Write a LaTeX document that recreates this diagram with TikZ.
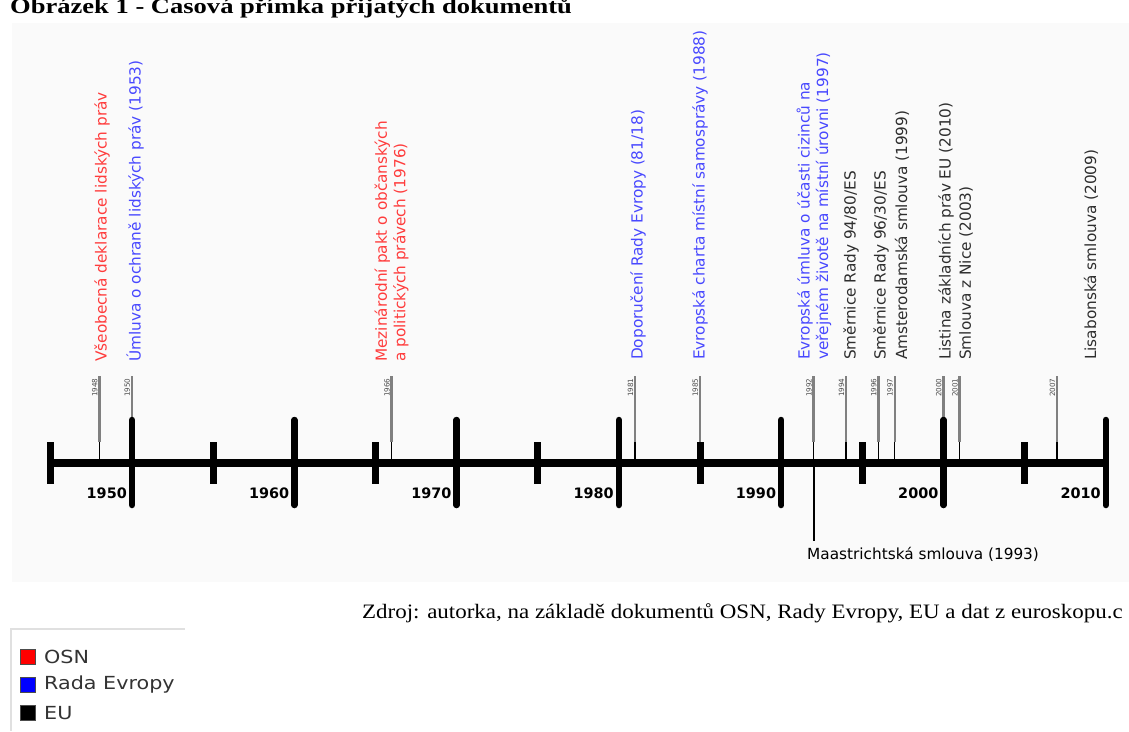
\documentclass[tikz,border=0pt]{standalone}
\usepackage{fontspec}
\usepackage{graphicx}
\newfontfamily\dv{DejaVu Sans}
\newfontfamily\tnr{Liberation Serif}
\definecolor{osn}{HTML}{FF3C3C}
\definecolor{rada}{HTML}{4848FF}
\definecolor{eu}{HTML}{2E2E2E}
\definecolor{bgpanel}{HTML}{FAFAFA}
\tikzset{
  lbl/.style={rotate=90, anchor=west, inner sep=0pt, align=left,
    font=\dv\fontsize{15.3}{18.5}\selectfont},
  decadetick/.style={line width=6.5pt, line cap=round},
  halftick/.style={line width=7pt},
  evup/.style={line width=2.6pt, draw=black!50},
  evlow/.style={line width=1.3pt, draw=black},
  yrlbl/.style={rotate=90, anchor=south east, inner sep=0.4pt,
    font=\dv\fontsize{7.2}{8}\selectfont, text=black!70},
  declbl/.style={anchor=east, inner sep=0pt,
    font=\dv\bfseries\fontsize{14.4}{16}\selectfont},
  legsq/.style={draw=black!70, line width=0.8pt, minimum size=15pt, inner sep=0pt},
  legtxt/.style={anchor=west, inner sep=0pt, text=black!80},
}
\newcommand{\legfont}[1]{\scalebox{1.15}[1]{\dv\fontsize{18}{20}\selectfont #1}}
\begin{document}
\begin{tikzpicture}[x=1pt,y=-1pt]
\useasboundingbox (0,0) rectangle (1129,731);
\fill[white] (0,0) rectangle (1129,731);
\fill[bgpanel] (12,23) rectangle (1129,582);

% title (cut off at top, as in the reference)
\node[anchor=base west, inner sep=0pt] (title) at (10,13)
  {\scalebox{1.24}[1]{\tnr\bfseries\fontsize{21.4}{24}\selectfont Obrázek 1 - Časová přímka přijatých dokumentů}};

% axis
\coordinate (axL) at (50.85,463);
\coordinate (axR) at (1106.8,463);
\draw[line width=8pt] (axL) -- (axR);

% half-decade ticks
\foreach \yy in {1945,1955,...,2005} {
  \pgfmathsetmacro\xx{132+16.23*(\yy-1950)}
  \draw[halftick] (\xx,442) -- (\xx,484);
}
% event lines
\foreach \yy in {1948,1950,1966,1981,1985,1992,1994,1996,1997,2000,2001,2007} {
  \pgfmathsetmacro\xx{132+16.23*(\yy-1950)}
  \draw[evup] (\xx,376) -- (\xx,442);
  \draw[evlow] (\xx,442) -- (\xx,463);
  \node[yrlbl] (ev\yy) at (\xx-1.4,378) {\yy};
}
% decade ticks and labels
\foreach \yy in {1950,1960,...,2010} {
  \pgfmathsetmacro\xx{132+16.23*(\yy-1950)}
  \draw[decadetick] (\xx,420) -- (\xx,505);
  \node[declbl] (dec\yy) at (\xx-5,493) {\yy};
}

% Maastricht
\coordinate (m92top) at (814,463);
\coordinate (m92bot) at (814,541);
\draw[line width=1.5pt] (m92top) -- (m92bot);
\node[anchor=west, inner sep=0pt, font=\dv\fontsize{15.3}{18}\selectfont, text=black] (maas) at (807,554) {Maastrichtská smlouva (1993)};

% rotated document labels
\node[lbl, text=osn] (l1) at (102,362) {Všeobecná deklarace lidských práv};
\node[lbl, text=rada] (l2) at (135,362) {Úmluva o ochraně lidských práv (1953)};
\node[lbl, text=osn] (l3) at (391.5,362) {Mezinárodní pakt o občanských\\a politických právech (1976)};
\node[lbl, text=rada] (l4) at (638,360) {Doporučení Rady Evropy (81/18)};
\node[lbl, text=rada] (l5) at (700,360) {Evropská charta místní samosprávy (1988)};
\node[lbl, text=rada] (l6) at (814,360) {Evropská úmluva o účasti cizinců na\\veřejném životě na místní úrovni (1997)};
\node[lbl, text=eu] (l7) at (851,360) {Směrnice Rady 94/80/ES};
\node[lbl, text=eu] (l8) at (881,360) {Směrnice Rady 96/30/ES};
\node[lbl, text=eu] (l9) at (902,360) {Amsterodamská smlouva (1999)};
\node[lbl, text=eu] (l10) at (946,360) {Listina základních práv EU (2010)};
\node[lbl, text=eu] (l11) at (966,360) {Smlouva z Nice (2003)};
\node[lbl, text=eu] (l12) at (1091,360) {Lisabonská smlouva (2009)};

% source
\node[anchor=base west, inner sep=0pt] (src) at (362,618)
  {\scalebox{1.12}[1]{\tnr\fontsize{20.5}{22}\selectfont Zdroj: autorka, na základě dokumentů OSN, Rady Evropy, EU a dat z euroskopu.c}};

% legend
\draw[black!12, line width=1.2pt] (11,731) -- (11,629) -- (185,629);
\node[legsq, fill=red] (sqosn) at (28,657) {};
\node[legsq, fill=blue] (sqrada) at (28,685) {};
\node[legsq, fill=black] (sqeu) at (28,713) {};
\node[legtxt] (tosn) at (44,657) {\legfont{OSN}};
\node[legtxt] (trada) at (44,685) {\legfont{Rada Evropy}};
\node[legtxt] (teu) at (44,713) {\legfont{EU}};
\end{tikzpicture}
\end{document}
